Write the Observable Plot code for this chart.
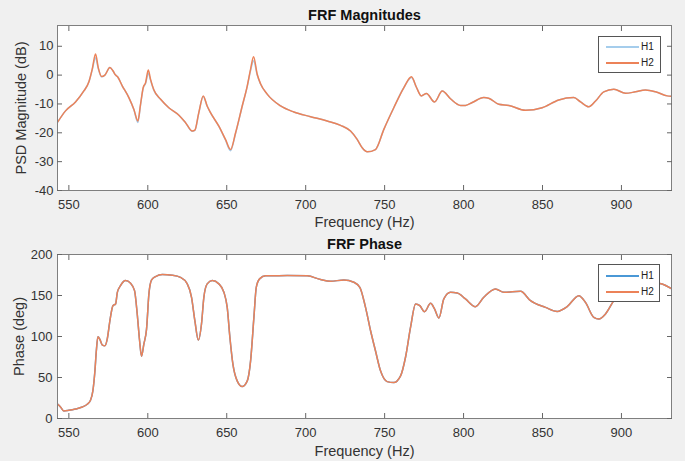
<!DOCTYPE html>
<html>
<head>
<meta charset="utf-8">
<script src="https://cdn.jsdelivr.net/npm/d3@7"></script>
<script src="https://cdn.jsdelivr.net/npm/@observablehq/plot@0.6"></script>
<style>
  html, body { margin: 0; padding: 0; background: #f0f0f0; }
  #wrap { position: relative; width: 685px; height: 461px; overflow: hidden; font-family: 'Liberation Sans', Arial, Helvetica, sans-serif; }
  #top, #bot { position: absolute; left: 0; }
  #top { top: 0; }
  #bot { top: 230px; }
  .legend { position: absolute; box-sizing: border-box; border: 1px solid #555; background: #fff; }
  .legend .ln { position: absolute; height: 2px; }
  .legend .lb { position: absolute; font-size: 10px; color: #222; line-height: 10px; }
</style>
</head>
<body>
<div id="wrap">
  <div id="top"></div>
  <div id="bot"></div>
</div>
<script>
// ---------- data ----------
const xTicks = [550, 600, 650, 700, 750, 800, 850, 900];
const magTicks = [-40, -30, -20, -10, 0, 10];
const phaseTicks = [0, 50, 100, 150, 200];
const seriesNames = ["H1", "H2"];

const magFreq = [543, 547.9, 554.2, 559.5, 562.7, 564.8, 566.9, 568.6, 570.7, 572.8,
  576, 577.9, 579.6, 580.7, 583.8, 588, 591.2, 593.7, 595.4, 597.1,
  598.6, 600.3, 601.7, 603.8, 608.1, 613.3, 619.7, 623.9, 628.2, 629.8,
  632.3, 635.1, 637.6, 639.7, 645, 649.2, 652.4, 655.6, 659.8, 663,
  665.1, 667, 669.3, 671.4, 675.6, 684.1, 692.5, 703.1, 713.6, 722.1,
  728.4, 732.6, 735.8, 739, 744.2, 749.5, 755.8, 762.2, 767, 770.2,
  773.2, 776.5, 781.6, 786.5, 791.7, 798.1, 801.2, 805.5, 812.8, 815.9,
  822.3, 828.7, 839.2, 849.8, 860.3, 869.8, 874.1, 879.3, 883.6, 888.8,
  895.2, 902.6, 908.9, 915.2, 921.6, 929, 932];
const magH2 = [-16.2, -12.4, -9.3, -5.5, -2.3, 2.1, 7.3, 2.6, -0.5, 0,
  2.6, 1.5, 0, -0.5, -3.7, -7.8, -11.9, -15.9, -10.1, -4.3,
  -2.6, 1.8, -1.4, -5.1, -8.4, -11.3, -13.9, -16.5, -19.4, -19.1,
  -13, -7.2, -10.7, -13, -17.7, -22.3, -25.8, -20, -10.7, -3.7,
  2.1, 6.4, 0.3, -3, -6.6, -10.7, -12.8, -14.4, -15.9, -17.4,
  -19.4, -22.3, -25.2, -26.6, -25.8, -18.8, -11.3, -4.3, -0.6, -4.3,
  -7.2, -6.4, -9.3, -5.5, -8.2, -10.5, -10.5, -9.5, -7.8, -8.0,
  -10.1, -10.5, -12.2, -11.3, -8.6, -7.8, -9.3, -11.0, -9.0, -5.8,
  -4.9, -6.3, -5.8, -5.2, -5.8, -7.2, -7.4];
const magH1 = [-16.2, -12.4, -9.3, -5.5, -2.3, 1.8, 6.0, 2.3, -0.6, 0,
  2.6, 1.5, 0, -0.5, -3.7, -7.8, -12.0, -16.4, -10.3, -4.5,
  -2.9, 0.6, -1.7, -5.2, -8.4, -11.3, -13.9, -16.5, -19.5, -19.2,
  -13.1, -7.4, -10.8, -13, -17.8, -22.5, -26.2, -20.2, -10.8, -3.9,
  1.6, 5.0, 0.0, -3.1, -6.6, -10.7, -12.8, -14.4, -15.9, -17.4,
  -19.4, -22.3, -25.2, -26.6, -25.8, -18.8, -11.3, -4.3, -0.8, -4.3,
  -7.2, -6.4, -9.3, -5.5, -8.2, -10.5, -10.5, -9.5, -7.8, -8.0,
  -10.1, -10.5, -12.2, -11.3, -8.6, -7.8, -9.3, -11.0, -9.0, -5.8,
  -4.9, -6.3, -5.8, -5.2, -5.8, -7.2, -7.4];

const phaseFreq = [543, 544.7, 546.8, 550, 554.2, 558.5, 561.6, 563.7, 565.2, 566.5,
  567.4, 568.4, 569.6, 571.1, 572.8, 574.3, 576, 577.9, 579.6, 580.7,
  582.7, 585.9, 589.1, 591.6, 593.3, 594.8, 596, 597.5, 599.2, 600.7,
  602.4, 604.9, 609.2, 615.5, 620.7, 625, 627.7, 629.8, 632, 634,
  635.5, 637.6, 640.8, 645, 648.2, 650.3, 652, 653.9, 656.6, 659.8,
  663, 665.1, 667.2, 668.7, 670.8, 674.6, 677.7, 688.3, 701, 709.4,
  715.7, 724.2, 730.5, 734.3, 737.9, 741.1, 744.2, 747.4, 751.6, 755.8,
  760.1, 763.2, 766.4, 769.6, 772.3, 775.3, 779.1, 781.6, 784.4, 787.5,
  791.7, 796, 801.2, 807.5, 812.8, 820.2, 825.5, 836.1, 842.4, 851.9,
  859.3, 865.6, 873, 877.2, 882.5, 885.7, 889.9, 895.2, 905, 912,
  920, 925.8, 932];
const phaseH2 = [17.4, 14, 9.2, 10, 11.6, 14, 17.4, 22.2, 33.6, 58,
  82.6, 99.7, 96.8, 89.9, 88.7, 96.8, 119.3, 137.6, 139.7, 153.9,
  162, 168.2, 164.9, 156, 127.5, 94.8, 76, 90.7, 109, 151.9,
  169, 173.1, 175.5, 174.7, 172.2, 164.2, 147.8, 119.3, 95.6, 115.2,
  147.8, 164.2, 168.2, 164.2, 153.9, 135.5, 98.8, 66.3, 45.9, 39,
  45.9, 70.3, 123.3, 160, 170.3, 174, 174, 174.3, 174, 169.4,
  167.3, 169, 166.1, 160, 135.5, 107, 82.6, 58.1, 45, 43.8,
  52, 74.4, 111, 139.7, 137.6, 130.3, 140.4, 133.6, 122.6, 145.8,
  153.9, 153.1, 145.8, 136.4, 147.8, 158, 153.9, 155.1, 143.7, 135.5,
  130.6, 136.4, 149.8, 141.6, 123.3, 121.3, 127.5, 143.7, 158, 165,
  166, 164, 158];
const phaseH1 = [17.4, 14, 9.2, 10, 11.6, 14, 17.4, 22.2, 33.6, 58,
  82.6, 99.7, 96.8, 89.9, 88.7, 96.8, 119.3, 137.6, 139.7, 153.9,
  162, 168.2, 164.9, 156, 127.5, 94.8, 76, 90.7, 109, 151.9,
  169, 173.1, 175.5, 174.7, 172.2, 164.2, 147.8, 119.3, 95.6, 115.2,
  147.8, 164.2, 168.2, 164.2, 153.9, 135.5, 98.8, 66.3, 45.9, 39,
  45.9, 70.3, 123.3, 160, 170.3, 174, 174, 174.3, 174, 169.4,
  167.3, 169, 166.1, 160, 135.5, 107, 82.6, 58.1, 45, 43.8,
  52, 74.4, 111, 139.7, 137.6, 130.3, 140.4, 133.6, 122.6, 145.8,
  153.9, 153.1, 145.8, 136.4, 147.8, 158, 153.9, 155.1, 143.7, 135.5,
  130.6, 136.4, 149.8, 141.6, 123.3, 121.3, 127.5, 143.7, 158, 165,
  166, 164, 158];

// ---------- drawing ----------
const FONT = "'Liberation Sans', Arial, Helvetica, sans-serif";
const ORANGE = "#ec8258";
const BOX = "#7f7f7f";
const TICK = "#666";
const TXT = "#333";
const xDomain = [542.8, 931.7];

function panel(o) {
  const data = o.freq.map((f, i) => ({f, h1: o.h1[i], h2: o.h2[i]}));
  return Plot.plot({
    width: 685, height: o.height,
    marginTop: o.mt, marginBottom: o.mb, marginLeft: 57, marginRight: 14,
    style: {background: "transparent", fontFamily: FONT, color: TXT, overflow: "visible"},
    x: {domain: xDomain, label: null},
    y: {domain: o.yDomain, label: null},
    marks: [
      Plot.frame({fill: "white", stroke: "none"}),
      Plot.line(data, {x: "f", y: "h1", stroke: o.c1, strokeWidth: 1.5, curve: "monotone-x", clip: true}),
      Plot.line(data, {x: "f", y: "h2", stroke: ORANGE, strokeWidth: 1.5, curve: "monotone-x", clip: true}),
      Plot.frame({stroke: BOX, strokeWidth: 1}),
      // inward ticks on all four sides
      Plot.axisX(xTicks, {anchor: "bottom", tickSize: 5, dy: -5, fill: "none", stroke: TICK, label: null}),
      Plot.axisX(xTicks, {anchor: "top", tickSize: 5, dy: 5, fill: "none", stroke: TICK, label: null}),
      Plot.axisY(o.yTicks, {anchor: "left", tickSize: 5, dx: 5, fill: "none", stroke: TICK, label: null}),
      Plot.axisY(o.yTicks, {anchor: "right", tickSize: 5, dx: -5, fill: "none", stroke: TICK, label: null}),
      // tick labels
      Plot.axisX(xTicks, {anchor: "bottom", tickSize: 0, tickPadding: 9, fontSize: 13, fill: TXT, label: null, tickFormat: d => String(d)}),
      Plot.axisY(o.yTicks, {anchor: "left", tickSize: 0, tickPadding: o.yPad, fontSize: 13, fill: TXT, label: null, tickFormat: d => String(d)}),
      // titles and axis labels
      Plot.text([o.title], {frameAnchor: "top", dy: -10.5, lineAnchor: "middle", textAnchor: "middle", fontSize: 14.5, fontWeight: "bold", fill: "#111"}),
      Plot.text(["Frequency (Hz)"], {frameAnchor: "bottom", dy: o.xlabDy, lineAnchor: "middle", textAnchor: "middle", fontSize: 14.5, fill: TXT}),
      Plot.text([o.ylabel], {frameAnchor: "left", dx: o.ylabDx, rotate: -90, lineAnchor: "middle", textAnchor: "middle", fontSize: 14.5, fill: TXT})
    ]
  });
}

document.getElementById("top").append(panel({
  freq: magFreq, h1: magH1, h2: magH2,
  yDomain: [-40, 17.2], yTicks: magTicks,
  height: 230, mt: 25, mb: 40,
  title: "FRF Magnitudes", ylabel: "PSD Magnitude (dB)",
  ylabDx: -36, xlabDy: 32, yPad: 4, c1: "#a5cdec"
}));

document.getElementById("bot").append(panel({
  freq: phaseFreq, h1: phaseH1, h2: phaseH2,
  yDomain: [0, 200], yTicks: phaseTicks,
  height: 231, mt: 24, mb: 43,
  title: "FRF Phase", ylabel: "Phase (deg)",
  ylabDx: -38, xlabDy: 33, yPad: 5, c1: "#4a98d6"
}));

// legends (HTML overlay)
function legend(left, top, w, h, ys, colors) {
  const box = document.createElement("div");
  box.className = "legend";
  Object.assign(box.style, {left: left + "px", top: top + "px", width: w + "px", height: h + "px"});
  seriesNames.forEach((name, i) => {
    const ln = document.createElement("div");
    ln.className = "ln";
    Object.assign(ln.style, {left: "7px", width: "33px", top: (ys[i] - 1) + "px", background: colors[i]});
    const lb = document.createElement("div");
    lb.className = "lb";
    lb.textContent = name;
    Object.assign(lb.style, {left: "42px", top: (ys[i] - 5) + "px"});
    box.append(ln, lb);
  });
  document.getElementById("wrap").append(box);
}
legend(598, 36, 63, 37, [10, 26], ["#a5cdec", ORANGE]);
legend(598, 264, 62, 38, [11, 27], ["#4a98d6", ORANGE]);
</script>
</body>
</html>
